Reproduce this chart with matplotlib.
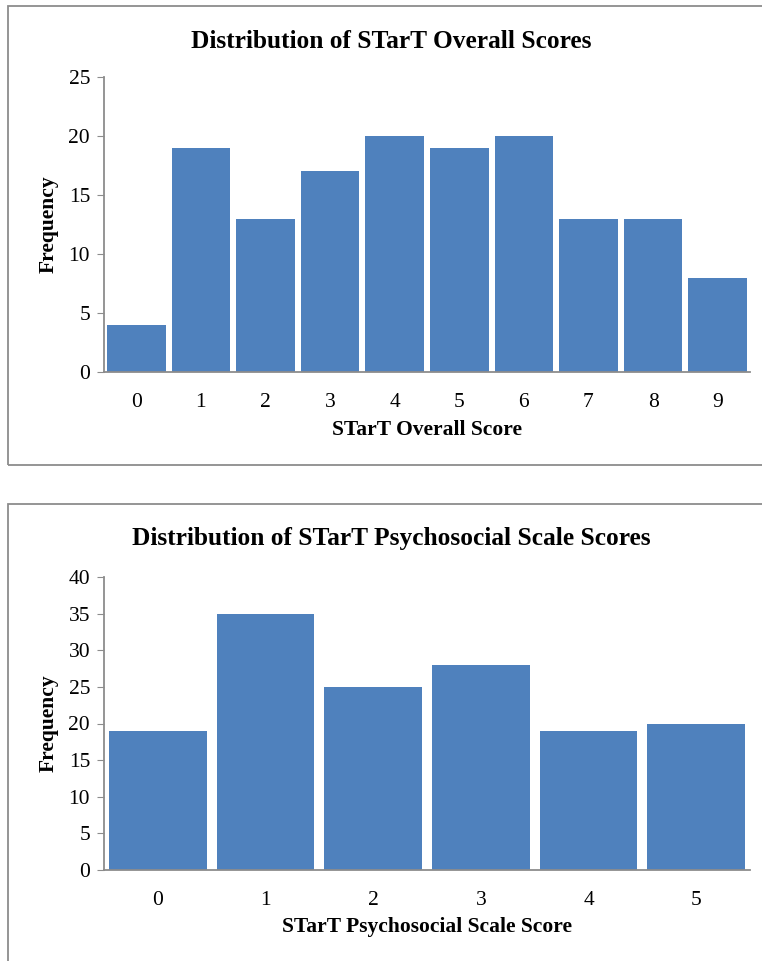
import matplotlib.pyplot as plt
from matplotlib.patches import Rectangle

overall_scores = [0, 1, 2, 3, 4, 5, 6, 7, 8, 9]
overall_freq = [4, 19, 13, 17, 20, 19, 20, 13, 13, 8]
psycho_scores = [0, 1, 2, 3, 4, 5]
psycho_freq = [19, 35, 25, 28, 19, 20]

BAR = "#4F81BD"
GREY = "#8C8C8C"
W, H = 762, 961

plt.rcParams['font.family'] = ['Liberation Serif', 'DejaVu Serif']


def fx(px):
    return px / W


def fy(py):
    return 1 - py / H


def draw_panel(fig, rect, cats, vals, ymax, title, xlabel, title_y, xlabel_y):
    left, top, right, bottom = rect
    ax = fig.add_axes([fx(left), fy(bottom), fx(right - left), fy(top) - fy(bottom)])
    ax.bar(cats, vals, width=0.91, color=BAR)
    ax.set_xlim(-0.5, len(cats) - 0.5)
    ax.set_ylim(0, ymax)
    ax.set_yticks(range(0, ymax + 1, 5))
    ax.set_xticks(cats)
    ax.tick_params(axis='y', direction='out', length=5, color=GREY,
                   labelsize=15.5, pad=5)
    ax.tick_params(axis='x', length=0, labelsize=15.5, pad=15)
    for s in ['top', 'right']:
        ax.spines[s].set_visible(False)
    for s in ['left', 'bottom']:
        ax.spines[s].set_color(GREY)
        ax.spines[s].set_linewidth(1.3)
    ax.set_ylabel("Frequency", fontsize=15.5, fontweight='bold')
    ax.yaxis.set_label_coords(fx(59 - left) / ax.get_position().width, 0.5)
    fig.text(fx(391), fy(title_y), title, ha='center', va='center',
             fontsize=18.3, fontweight='bold')
    fig.text(fx((left + right) / 2), fy(xlabel_y), xlabel, ha='center',
             va='center', fontsize=15.5, fontweight='bold')


fig = plt.figure(figsize=(W / 100, H / 100), dpi=100)

fig.patches.append(Rectangle((fx(8), fy(465)), 1.0, fy(6) - fy(465),
                             transform=fig.transFigure, fill=False,
                             edgecolor=GREY, linewidth=1.3))
fig.patches.append(Rectangle((fx(8), fy(990)), 1.0, fy(504) - fy(990),
                             transform=fig.transFigure, fill=False,
                             edgecolor=GREY, linewidth=1.3))

draw_panel(fig, (104, 77, 750, 372), overall_scores, overall_freq, 25,
           "Distribution of STarT Overall Scores", "STarT Overall Score",
           41, 430)
draw_panel(fig, (104, 577, 750, 870), psycho_scores, psycho_freq, 40,
           "Distribution of STarT Psychosocial Scale Scores",
           "STarT Psychosocial Scale Score", 538, 927)

fig.savefig("out.png", dpi=100)
